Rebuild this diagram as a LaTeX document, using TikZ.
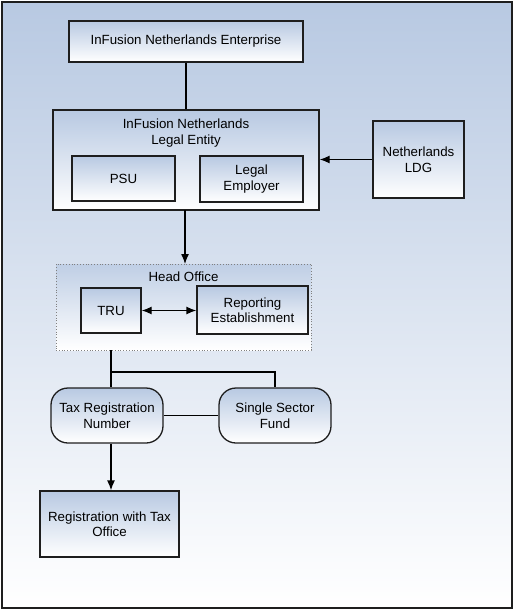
\documentclass[tikz,border=0pt]{standalone}
\usepackage{fontspec}
\setmainfont{Liberation Sans}
\usetikzlibrary{positioning,arrows.meta}
\definecolor{bgblue}{HTML}{B8C9E2}
\definecolor{edge}{HTML}{1E1E1E}

\begin{document}
\begin{tikzpicture}[x=1pt,y=-1pt,
  font=\fontsize{13.3}{15.5}\selectfont,
  >={Latex[length=10pt,width=8pt]},
  box/.style={draw=edge,line width=1.3pt,top color=bgblue,bottom color=white,align=center,inner sep=0pt},
  roundbox/.style={box,rounded corners=17pt},
  holder/.style={draw=gray,dotted,line width=0.8pt,top color=bgblue!90,bottom color=white,inner sep=0pt},
  link/.style={draw=black,line width=1.3pt}]
\useasboundingbox (0,0) rectangle (514,610);
%\draw[] (0,0) grid (514,610);
\draw[edge,line width=2pt,top color=bgblue,bottom color=white] (2,2) rectangle (512,608);
\node[box,minimum width=234pt,minimum height=41pt] (ent) at (186,41.5) {InFusion Netherlands Enterprise};
\node[box,minimum width=266pt,minimum height=100pt] (le) at (186,160) {};
\node[align=center] (letitle) at (186,133) {InFusion Netherlands\\Legal Entity};
\node[box,minimum width=103pt,minimum height=45pt] (psu) at (123.5,178.5) {PSU};
\node[box,minimum width=103pt,minimum height=46pt] (emp) at (251.5,179) {Legal\\Employer};
\node[box,minimum width=91pt,minimum height=77pt] (ldg) at (418.5,159.5) {Netherlands\\LDG};
\node[holder,minimum width=255pt,minimum height=86pt] (ho) at (183.5,307) {};
\node (hotitle) at (183.5,277) {Head Office};
\node[box,minimum width=60pt,minimum height=45pt] (tru) at (111,310.5) {TRU};
\node[box,minimum width=111pt,minimum height=48pt] (rep) at (252.5,310) {Reporting\\Establishment};
\node[roundbox,minimum width=112pt,minimum height=55pt] (trn) at (107,415.5) {Tax Registration\\Number};
\node[roundbox,minimum width=112pt,minimum height=55pt] (ssf) at (275,415.5) {Single Sector\\Fund};
\node[box,minimum width=139pt,minimum height=66pt] (rto) at (109.5,524) {Registration with Tax\\Office};
\coordinate (br) at (111,372);
\draw[link] (ent) -- (le);
\draw[link,->] (ldg.west) -- (ldg.west -| le.east);
\draw[link,->] (185,210) -- (185,264);
\draw[link,<->] (tru.east) -- (tru.east -| rep.west);
\draw[link] (br |- ho.south) -- (br |- trn.north);
\draw[link] (br) -| (ssf.north);
\draw[link] (trn) -- (ssf);
\draw[link,->] (br |- trn.south) -- (br |- rto.north);
\end{tikzpicture}
\end{document}
